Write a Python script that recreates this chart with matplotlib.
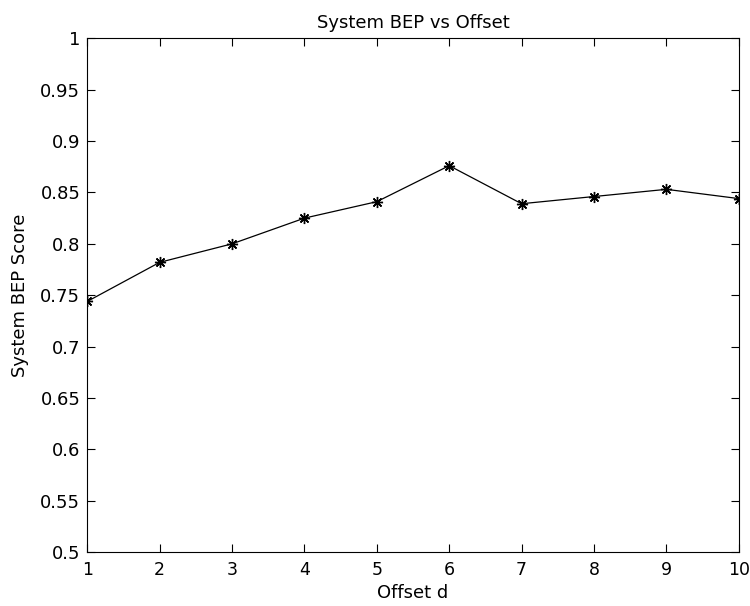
import matplotlib
matplotlib.use("Agg")
import matplotlib.pyplot as plt

offset = [1, 2, 3, 4, 5, 6, 7, 8, 9, 10]
bep = [0.744, 0.782, 0.800, 0.825, 0.841, 0.876, 0.839, 0.846, 0.853, 0.844]

plt.rcParams['font.family'] = ['DejaVu Sans']
plt.rcParams['font.size'] = 13

fig = plt.figure(figsize=(7.5, 6.06), dpi=100)
ax = fig.add_axes([0.1164, 0.0886, 0.8686, 0.8484])

ax.plot(offset, bep, color='black', linewidth=0.9,
        marker=(8, 2, 0), markersize=8, markeredgewidth=1.0)

ax.set_xlim(1, 10)
ax.set_ylim(0.5, 1)
ax.set_xticks(offset)
yt = [0.5, 0.55, 0.6, 0.65, 0.7, 0.75, 0.8, 0.85, 0.9, 0.95, 1]
ax.set_yticks(yt)
ax.set_yticklabels(['0.5', '0.55', '0.6', '0.65', '0.7', '0.75', '0.8', '0.85', '0.9', '0.95', '1'])

ax.tick_params(direction='in', top=True, right=True, length=5.5, width=0.8)
ax.tick_params(axis='y', pad=5)
ax.tick_params(axis='x', pad=6, labelsize=12.5)
for s in ax.spines.values():
    s.set_linewidth(0.8)

ax.set_title('System BEP vs Offset', fontsize=13, pad=7.5)
ax.set_xlabel('Offset d', labelpad=4)
ax.set_ylabel('System BEP Score', labelpad=8)

fig.savefig('out.png', dpi=100)
